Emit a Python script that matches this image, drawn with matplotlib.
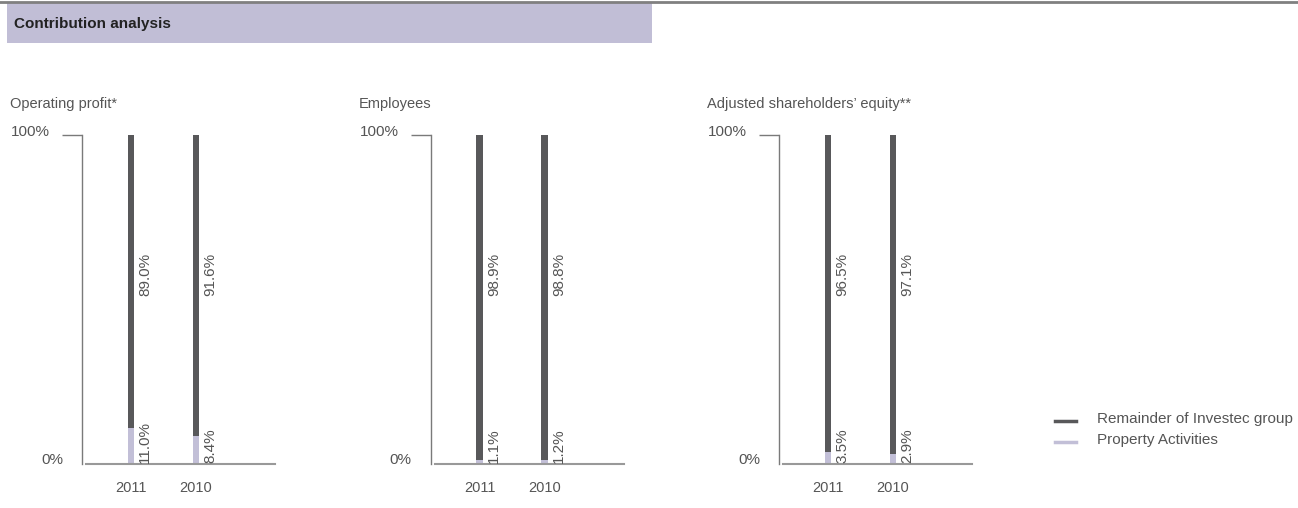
import matplotlib
matplotlib.use('Agg')
import matplotlib.pyplot as plt
from matplotlib.lines import Line2D
from matplotlib.patches import Rectangle
import numpy as np

plt.rcParams['font.family'] = ['Liberation Sans', 'DejaVu Sans']

years = ['2011', '2010']
panel_titles = ['Operating profit*', 'Employees', 'Adjusted shareholders\u2019 equity**']
property_share = [[11.0, 8.4], [1.1, 1.2], [3.5, 2.9]]
remainder_share = [[89.0, 91.6], [98.9, 98.8], [96.5, 97.1]]
series_names = ['Remainder of Investec group', 'Property Activities']

DARK = '#58585a'
LIGHT = '#c2bfd7'
TEXT = '#555555'
AXIS = '#7a7a7a'

W, H = 1298, 508


def px_box(x0, y0, w, h):
    # pixel rectangle measured from the top-left corner -> figure fraction
    return [x0 / W, 1 - (y0 + h) / H, w / W, h / H]


def draw_panel(ax, title, prop, rem):
    x = np.arange(len(years))
    width = 0.095
    ax.bar(x, prop, width, color=LIGHT, linewidth=0)
    ax.bar(x, rem, width, bottom=prop, color=DARK, linewidth=0)

    ax.set_xlim(-0.754, 2.215)
    ax.set_ylim(0, 100)
    for side in ['top', 'right', 'bottom']:
        ax.spines[side].set_visible(False)
    ax.spines['left'].set_color(AXIS)
    ax.spines['left'].set_linewidth(1)
    ax.axhline(0, xmin=4 / 193, xmax=1, color='#999999', lw=1.5, clip_on=False)

    ax.set_yticks([100])
    ax.set_yticklabels([''])
    ax.tick_params(axis='y', length=14.4, width=1, color=AXIS, direction='out')
    ax.set_xticks(x, years)
    ax.tick_params(axis='x', length=0, pad=12, labelsize=10.5, labelcolor=TEXT)

    ytr = ax.get_yaxis_transform()
    ax.text(-32 / 193, 100.8, '100%', transform=ytr, ha='right', va='center',
            fontsize=11, color=TEXT)
    ax.text(-19 / 193, 1.2, '0%', transform=ytr, ha='right', va='center',
            fontsize=11, color=TEXT)
    ax.text(-72 / 193, 109.5, title, transform=ytr, ha='left', va='center',
            fontsize=10.5, color=TEXT)

    for xi, p, r in zip(x, prop, rem):
        ax.annotate(f'{p:.1f}%', (xi + width / 2, 0), xytext=(3, 1),
                    textcoords='offset points', rotation=90, ha='left',
                    va='bottom', fontsize=11, color=TEXT)
        ax.annotate(f'{r:.1f}%', (xi + width / 2, 51), xytext=(3, 0),
                    textcoords='offset points', rotation=90, ha='left',
                    va='bottom', fontsize=11, color=TEXT)


fig = plt.figure(figsize=(W / 100, H / 100), dpi=100)

# header band with the rule above it
fig.add_artist(Rectangle((7 / W, 1 - 43 / H), 645 / W, 41 / H,
                         transform=fig.transFigure, color='#c1bed6', lw=0))
fig.add_artist(Line2D([0, 1], [1 - 1.5 / H] * 2, transform=fig.transFigure,
                      color='#808080', lw=2))
fig.text(14 / W, 1 - 24 / H, 'Contribution analysis', ha='left', va='center',
         fontsize=11, fontweight='bold', color='#222222')

for i in range(3):
    ax = fig.add_axes(px_box(82 + 348.5 * i, 135, 193, 329))
    draw_panel(ax, panel_titles[i], property_share[i], remainder_share[i])

# legend
for name, color, yy in zip(series_names, [DARK, LIGHT], [421, 442]):
    fig.add_artist(Line2D([1055 / W, 1076 / W], [1 - yy / H] * 2,
                          transform=fig.transFigure, color=color, lw=2.5))
    fig.text(1097 / W, 1 - (yy - 2) / H, name, ha='left', va='center',
             fontsize=11, color=TEXT)

fig.savefig('out.png', dpi=100)
